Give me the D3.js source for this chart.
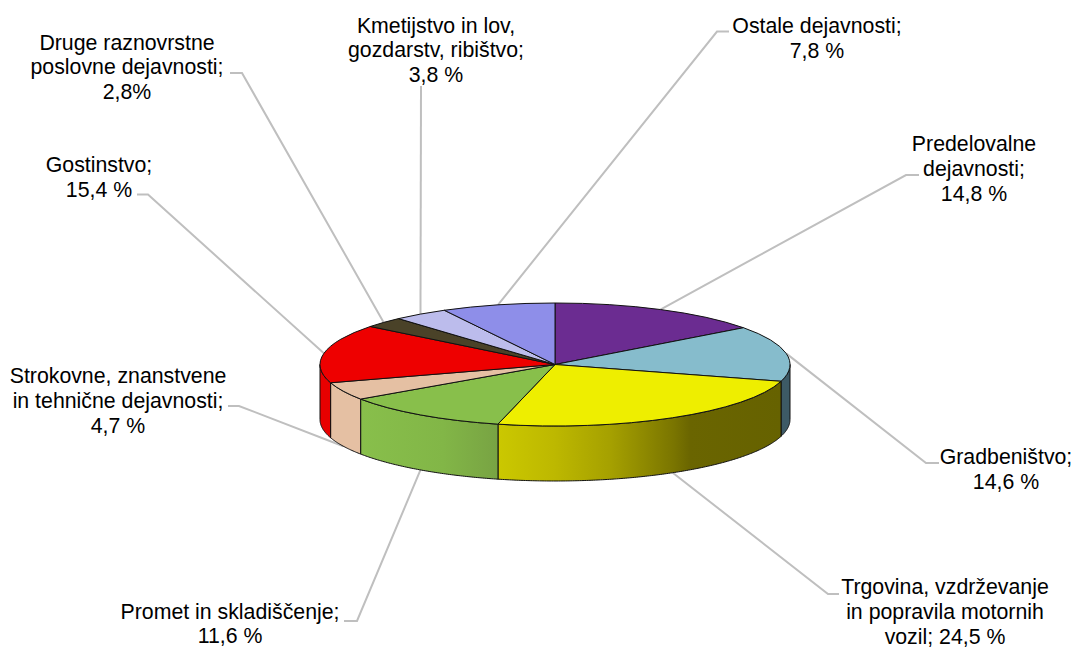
<!DOCTYPE html>
<html>
<head>
<meta charset="utf-8">
<script src="https://cdn.jsdelivr.net/npm/d3@7"></script>
<style>
    html, body { margin: 0; padding: 0; background: #fff; }
    svg { display: block; }
    text { font-family: "Liberation Sans", Arial, sans-serif; font-size: 21.3px; fill: #000; text-anchor: middle; }
</style>
</head>
<body>
<div id="chart"></div>
<script>
// chart data, clockwise from 12 o'clock
const CATEGORIES = ["Predelovalne dejavnosti", "Gradbeništvo", "Trgovina, vzdrževanje in popravila motornih vozil",
                    "Promet in skladiščenje", "Strokovne, znanstvene in tehnične dejavnosti", "Gostinstvo",
                    "Druge raznovrstne poslovne dejavnosti", "Kmetijstvo in lov, gozdarstv, ribištvo", "Ostale dejavnosti"];
const VALUES = [14.8, 14.6, 24.5, 11.6, 4.7, 15.4, 2.8, 3.8, 7.8];
const LABEL_LINES = [
    ["Predelovalne", "dejavnosti;", "14,8 %"],
    ["Gradbeništvo;", "14,6 %"],
    ["Trgovina, vzdrževanje", "in popravila motornih", "vozil; 24,5 %"],
    ["Promet in skladiščenje;", "11,6 %"],
    ["Strokovne, znanstvene", "in tehnične dejavnosti;", "4,7 %"],
    ["Gostinstvo;", "15,4 %"],
    ["Druge raznovrstne", "poslovne dejavnosti;", "2,8%"],
    ["Kmetijstvo in lov,", "gozdarstv, ribištvo;", "3,8 %"],
    ["Ostale dejavnosti;", "7,8 %"]
];

// colours
const TOP_COLORS = ["#6b2c91", "#86bccc", "#eeee00", "#88bf4b", "#e5c0a3", "#ee0000", "#4a4228", "#bcbcec", "#8e8ee9"];
const SIDE_STOPS = [
    null,
    [[0, "#3d5a66"], [1, "#3d5a66"]],
    [[0, "#cbc800"], [0.2, "#bdb800"], [0.4, "#a5a000"], [0.62, "#7a7500"], [0.68, "#6a6500"], [1, "#666200"]],
    [[0, "#88bf4b"], [0.6, "#82b647"], [1, "#78a343"]],
    [[0, "#e5c0a3"], [1, "#e5c0a3"]],
    [[0, "#e80000"], [1, "#e80000"]],
    null, null, null
];

// layout of the labels: text centre x, first baseline y, leader elbow and end
const LABEL_X = [974, 1006, 945, 230, 118, 99, 127, 436, 817];
const LABEL_Y = [151, 464, 594, 618.5, 383, 172, 49.5, 32.5, 33];
const ELBOW_X = [906, 926, 828, 357, 239, 148, 242, 421, 717];
const ELBOW_Y = [175, 463, 594, 621, 406, 194.5, 73, 86, 31.5];
const END_X   = [919, 939, 839, 344, 228, 137, 230, 421, 729];

const WIDTH = 1076;
const HEIGHT = 648;
const CX = 555;
const CY = 364.5;
const RX = 235;
const RY = 61.5;
const DEPTH = 55;
const LINE_HEIGHT = 24.8;

let xScale = d3.scaleLinear().domain([-1, 1]).range([CX - RX, CX + RX]);
let yScale = d3.scaleLinear().domain([-1, 1]).range([CY - RY, CY + RY]);

let pie = d3.pie().sort(null).value((d) => d);
let arcs = pie(VALUES);

const rimX = (a) => xScale(Math.sin(a));
const rimY = (a) => yScale(-Math.cos(a));

let svg = d3.select("#chart")
            .append("svg")
            .attr("width", WIDTH)
            .attr("height", HEIGHT)
            .attr("viewBox", "0 0 " + WIDTH + " " + HEIGHT);

// one horizontal gradient for each visible wall
let defs = svg.append("defs");
SIDE_STOPS.forEach((stops, i) => {
    if (!stops) return;
    defs.append("linearGradient")
        .attr("id", "side-" + i)
        .selectAll("stop")
        .data(stops)
        .enter()
        .append("stop")
        .attr("offset", (d) => d[0])
        .attr("stop-color", (d) => d[1]);
});

// leader lines go under the pie
let leader = d3.line();
svg.append("g")
   .selectAll("path")
   .data(arcs)
   .enter()
   .append("path")
   .attr("d", (d, i) => {
       let mid = (d.startAngle + d.endAngle) / 2;
       let low = Math.cos(mid) < 0 ? DEPTH : 0;
       return leader([[rimX(mid), rimY(mid) + low], [ELBOW_X[i], ELBOW_Y[i]], [END_X[i], ELBOW_Y[i]]]);
   })
   .attr("fill", "none")
   .attr("stroke", "#bfbfbf")
   .attr("stroke-width", 2);

// walls of the front half
const FRONT_START = Math.PI / 2;
const FRONT_END = Math.PI * 1.5;
let outline = d3.line();
svg.append("g")
   .selectAll("path")
   .data(arcs.filter((d) => d.endAngle > FRONT_START && d.startAngle < FRONT_END))
   .enter()
   .append("path")
   .attr("d", (d) => {
       let a0 = Math.max(d.startAngle, FRONT_START);
       let a1 = Math.min(d.endAngle, FRONT_END);
       let angles = d3.range(a0, a1, 0.01).concat([a1]);
       let top = angles.map((a) => [rimX(a), rimY(a)]);
       let bottom = angles.slice().reverse().map((a) => [rimX(a), rimY(a) + DEPTH]);
       return outline(top.concat(bottom)) + "Z";
   })
   .attr("fill", (d) => "url(#side-" + d.index + ")")
   .attr("stroke", "#111")
   .attr("stroke-width", 1);

// top face: a unit d3.arc squashed into the ellipse
let arcPath = d3.arc().innerRadius(0).outerRadius(1);
svg.append("g")
   .attr("transform", "translate(" + CX + "," + CY + ") scale(" + RX + "," + RY + ")")
   .selectAll("path")
   .data(arcs)
   .enter()
   .append("path")
   .attr("d", arcPath)
   .attr("fill", (d, i) => TOP_COLORS[i])
   .attr("stroke", "#111")
   .attr("stroke-width", 1)
   .attr("vector-effect", "non-scaling-stroke");

// labels
let labels = svg.append("g")
                .selectAll("text")
                .data(LABEL_LINES)
                .enter()
                .append("text")
                .attr("data-category", (d, i) => CATEGORIES[i])
                .attr("y", (d, i) => LABEL_Y[i]);

labels.selectAll("tspan")
      .data((d, i) => d.map((line) => ({ line: line, x: LABEL_X[i] })))
      .enter()
      .append("tspan")
      .attr("x", (d) => d.x)
      .attr("dy", (d, j) => j === 0 ? 0 : LINE_HEIGHT)
      .text((d) => d.line);
</script>
</body>
</html>
